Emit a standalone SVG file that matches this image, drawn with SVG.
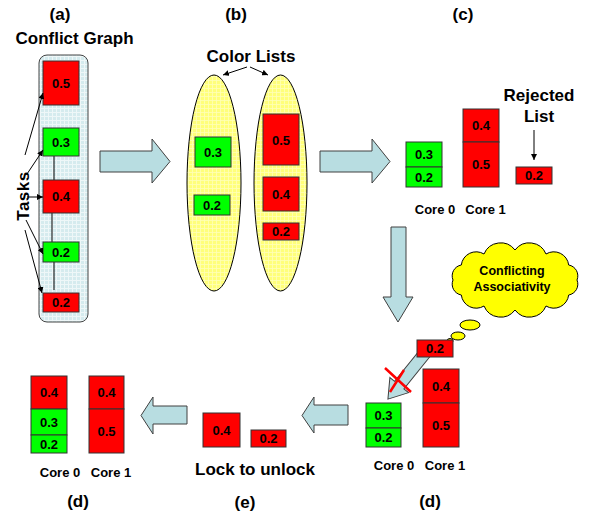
<svg xmlns="http://www.w3.org/2000/svg" width="590" height="516" viewBox="0 0 590 516">
  <style>
    text { font-family: "Liberation Sans", Arial, sans-serif; font-weight: bold; fill: #000; text-anchor: middle; }
    .cap { font-size: 17px; }
    .core { font-size: 13px; }
    .num { font-size: 13px; }
    .cloudtxt { font-size: 12.5px; }
    .red { fill: #ff0000; stroke: #333; stroke-width: 1; }
    .green { fill: #00ff00; stroke: #333; stroke-width: 1; }
    .flow { fill: #b8dde1; stroke: #404040; stroke-width: 1; }
    .edge { stroke: #000; stroke-width: 1; fill: none; }
  </style>
  <defs>
    <pattern id="gridBlue" width="4" height="4" patternUnits="userSpaceOnUse">
      <rect width="4" height="4" fill="#d5ebee"/>
      <path d="M0 0.5H4M0.5 0V4" stroke="#eef7f8" stroke-width="1"/>
    </pattern>
    <pattern id="gridYellow" width="4" height="4" patternUnits="userSpaceOnUse">
      <rect width="4" height="4" fill="#ffff7a"/>
      <path d="M0 0.5H4M0.5 0V4" stroke="#ffffb8" stroke-width="0.8"/>
    </pattern>
    <marker id="tip" viewBox="0 0 10 10" refX="10" refY="5" markerWidth="6" markerHeight="6" orient="auto" markerUnits="userSpaceOnUse">
      <path d="M0 0L10 5L0 10z" fill="#000"/>
    </marker>
  </defs>

  <!-- panel captions -->
  <g id="captions">
    <text class="cap" x="60" y="20">(a)</text>
    <text class="cap" x="236" y="20">(b)</text>
    <text class="cap" x="463" y="20">(c)</text>
    <text class="cap" x="78" y="507">(d)</text>
    <text class="cap" x="245" y="508">(e)</text>
    <text class="cap" x="430" y="507">(d)</text>
  </g>

  <!-- (a) conflict graph -->
  <g id="conflict-graph">
    <text class="cap" x="74.5" y="44">Conflict Graph</text>
    <rect x="39" y="55" width="49" height="267" rx="8" fill="url(#gridBlue)" stroke="#444"/>
    <path class="edge" d="M54 156V180M52 213V242M54 262V290"/>
    <text class="cap" transform="translate(28.5,196) rotate(-90)" letter-spacing="0.5">Tasks</text>
  </g>
  <g id="task-05"><rect class="red" x="43" y="61" width="36" height="44"/><text class="num" x="61" y="88">0.5</text></g>
  <g id="task-03"><rect class="green" x="43" y="128" width="36" height="28"/><text class="num" x="61" y="147">0.3</text></g>
  <g id="task-04"><rect class="red" x="43" y="180" width="36" height="33"/><text class="num" x="61" y="201">0.4</text></g>
  <g id="task-02g"><rect class="green" x="43" y="242" width="36" height="20"/><text class="num" x="61" y="257">0.2</text></g>
  <g id="task-02r"><rect class="red" x="43" y="293" width="36" height="19"/><text class="num" x="61" y="307">0.2</text></g>

  <!-- (b) colour lists -->
  <g id="color-lists">
    <text class="cap" x="251" y="62">Color Lists</text>
    <ellipse cx="214" cy="183" rx="27" ry="108" fill="url(#gridYellow)" stroke="#000"/>
    <ellipse cx="280.5" cy="183" rx="26.5" ry="108" fill="url(#gridYellow)" stroke="#000"/>
  </g>
  <g id="list-green">
    <rect class="green" x="195" y="137" width="36" height="30"/><text class="num" x="213" y="157">0.3</text>
    <rect class="green" x="194" y="195" width="36" height="20"/><text class="num" x="212" y="210">0.2</text>
  </g>
  <g id="list-red">
    <rect class="red" x="263" y="114" width="36" height="51"/><text class="num" x="281" y="145">0.5</text>
    <rect class="red" x="263" y="177" width="36" height="34"/><text class="num" x="281" y="199">0.4</text>
    <rect class="red" x="263" y="223" width="36" height="17"/><text class="num" x="281" y="236">0.2</text>
  </g>

  <!-- (c) first assignment -->
  <g id="c-core0">
    <rect class="green" x="406" y="142" width="36" height="25"/><text class="num" x="424" y="159">0.3</text>
    <rect class="green" x="406" y="167" width="36" height="20"/><text class="num" x="424" y="182">0.2</text>
    <text class="core" x="435" y="214">Core 0</text>
  </g>
  <g id="c-core1">
    <rect class="red" x="463" y="109" width="36" height="33"/><text class="num" x="481" y="130">0.4</text>
    <rect class="red" x="463" y="142" width="36" height="45"/><text class="num" x="481" y="169">0.5</text>
    <text class="core" x="485.5" y="214">Core 1</text>
  </g>
  <g id="c-rejected">
    <text class="cap" x="539" y="101">Rejected</text>
    <text class="cap" x="539" y="122">List</text>
    <rect class="red" x="516" y="167" width="36" height="17"/><text class="num" x="534" y="180">0.2</text>
  </g>

  <!-- thought cloud -->
  <g id="cloud">
    <path fill="#ffff00" stroke="#000" stroke-width="1"
      d="M515 250 A18 18 0 0 1 546 254 A15 15 0 0 1 568.7 265 A11 11 0 0 1 577 280 A11 11 0 0 1 568.7 295 A15 15 0 0 1 546 306 A18 18 0 0 1 515 310 A18 18 0 0 1 484 306 A15 15 0 0 1 461.3 295 A11 11 0 0 1 453 280 A11 11 0 0 1 461.3 265 A15 15 0 0 1 484 254 A18 18 0 0 1 515 250 Z"/>
    <ellipse cx="470" cy="325" rx="10" ry="5" fill="#ffff00" stroke="#000"/>
    <ellipse cx="458" cy="336" rx="7" ry="4" fill="#ffff00" stroke="#000"/>
    <ellipse cx="450" cy="341" rx="3" ry="2.5" fill="#ffff00" stroke="#000"/>
    <text class="cloudtxt" x="512" y="275">Conflicting</text>
    <text class="cloudtxt" x="512" y="291">Associativity</text>
  </g>

  <!-- connectors -->
  <g id="connectors">
    <path class="edge" d="M25 155L43 93" marker-end="url(#tip)"/>
    <path class="edge" d="M27 174L43 150" marker-end="url(#tip)"/>
    <path class="edge" d="M27 197L43 197" marker-end="url(#tip)"/>
    <path class="edge" d="M26 220L43 254" marker-end="url(#tip)"/>
    <path class="edge" d="M25 230L42 293" marker-end="url(#tip)"/>
    <path class="edge" d="M247 67L223 75" marker-end="url(#tip)"/>
    <path class="edge" d="M250 67L268 75" marker-end="url(#tip)"/>
    <path class="edge" d="M534 130V160" marker-end="url(#tip)"/>
    <polygon class="flow" points="100,151 152,151 152,139 170,161.5 152,183 152,172 100,172"/>
    <polygon class="flow" points="320,151 372,151 372,139 390,161.5 372,183 372,172 320,172"/>
    <polygon class="flow" points="391,227 406,227 406,297 413,297 398,322 383,297 391,297"/>
    <polygon class="flow" points="348,405 314,405 314,397 302,415.5 314,433 314,425 348,425"/>
    <polygon class="flow" points="187,406 153,406 153,397 141,415.5 153,434 153,424 187,424"/>
    <polygon class="flow" transform="translate(430,347) rotate(128.9)" points="0,-6 49,-6 49,-12 67,0 49,12 49,6 0,6"/>
    <path d="M385 368L411 392M404 370L390 392" stroke="#ff0000" stroke-width="2.5" fill="none"/>
  </g>

  <!-- (d) conflicting placement -->
  <g id="d-pending"><rect class="red" x="417" y="340" width="36" height="17"/><text class="num" x="435" y="353">0.2</text></g>
  <g id="d-core0">
    <rect class="green" x="366" y="403" width="35" height="25"/><text class="num" x="383.5" y="420">0.3</text>
    <rect class="green" x="366" y="428" width="35" height="19"/><text class="num" x="383.5" y="442">0.2</text>
    <text class="core" x="394" y="470">Core 0</text>
  </g>
  <g id="d-core1">
    <rect class="red" x="423" y="369" width="36" height="34"/><text class="num" x="441" y="391">0.4</text>
    <rect class="red" x="423" y="403" width="36" height="44"/><text class="num" x="441" y="430">0.5</text>
    <text class="core" x="445" y="470">Core 1</text>
  </g>

  <!-- (e) lock to unlock -->
  <g id="e-locks">
    <rect class="red" x="203" y="413" width="37" height="34"/><text class="num" x="221.5" y="435">0.4</text>
    <rect class="red" x="251" y="430" width="35" height="17"/><text class="num" x="268.5" y="443">0.2</text>
    <text class="cap" x="255" y="475">Lock to unlock</text>
  </g>

  <!-- (d) final placement -->
  <g id="f-core0">
    <rect class="red" x="31" y="376" width="36" height="33"/><text class="num" x="49" y="397">0.4</text>
    <rect class="green" x="31" y="409" width="36" height="26"/><text class="num" x="49" y="427">0.3</text>
    <rect class="green" x="31" y="435" width="36" height="18"/><text class="num" x="49" y="449">0.2</text>
    <text class="core" x="60" y="477">Core 0</text>
  </g>
  <g id="f-core1">
    <rect class="red" x="89" y="376" width="35" height="33"/><text class="num" x="106.5" y="397">0.4</text>
    <rect class="red" x="89" y="409" width="35" height="44"/><text class="num" x="106.5" y="436">0.5</text>
    <text class="core" x="111" y="477">Core 1</text>
  </g>
</svg>
